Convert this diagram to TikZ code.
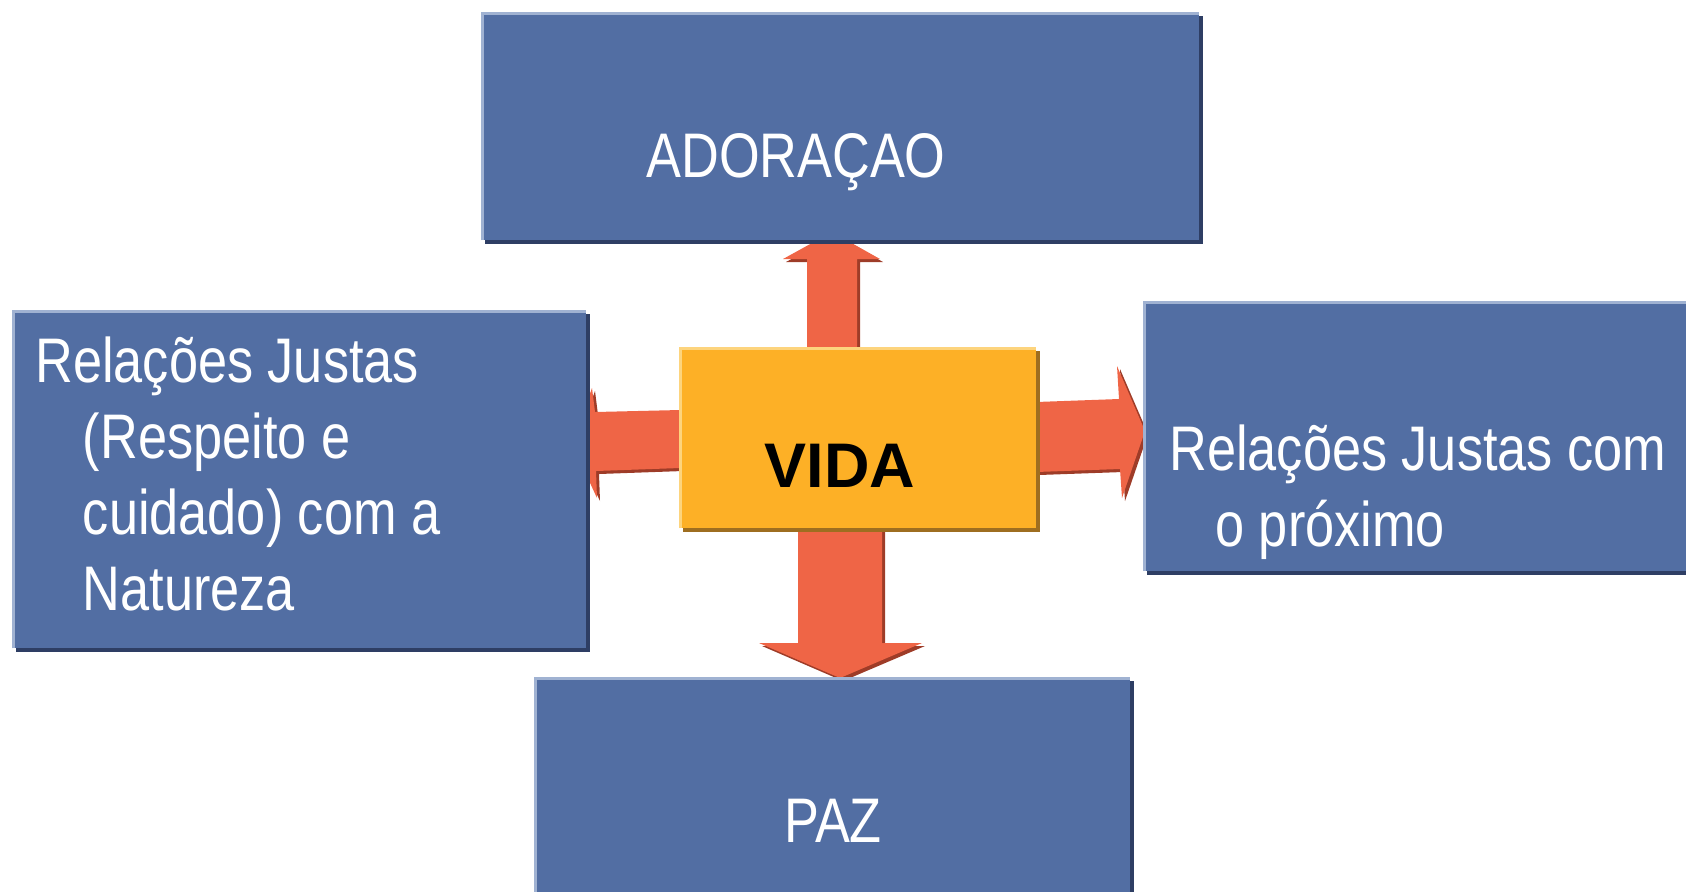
\documentclass[tikz,border=0pt]{standalone}
\usepackage{fontspec}
\setmainfont{Liberation Sans}[FakeStretch=0.83]
\newfontfamily\widefont{Liberation Sans}
\usetikzlibrary{shadows,fit}
\definecolor{boxfill}{RGB}{82,110,163}
\definecolor{boxhl}{RGB}{160,178,210}
\definecolor{boxsh}{RGB}{46,62,100}
\definecolor{vidafill}{RGB}{253,176,38}
\definecolor{vidahl}{RGB}{253,212,125}
\definecolor{vidash}{RGB}{158,110,32}
\definecolor{arrfill}{RGB}{239,101,70}
\definecolor{arrsh}{RGB}{158,60,40}
\begin{document}
\begin{tikzpicture}[x=0.5pt,y=-0.5pt,
  bluebox/.style={fit={#1}, inner sep=0pt, fill=boxfill,
    drop shadow={shadow xshift=2pt,shadow yshift=-2pt,fill=boxsh,opacity=1}},
  vidabox/.style={fit={#1}, inner sep=0pt, fill=vidafill,
    drop shadow={shadow xshift=2pt,shadow yshift=-2pt,fill=vidash,opacity=1}},
  hlline/.style={draw=#1, line width=1.5pt},
  lbl/.style={inner sep=0pt, text=white, font=\fontsize{31.5}{38}\selectfont},
  arrbody/.style={fill=arrfill},
  arrshadow/.style={fill=arrsh, shift={(3,3)}}
]
\useasboundingbox (0,0) rectangle (1686,891);

% block arrows (shadow, then body)
\fill[arrshadow] (807,347) -- (807,259) -- (783,259) -- (832,232) -- (880,259) -- (857,259) -- (857,347) -- cycle;
\fill[arrbody]   (807,347) -- (807,259) -- (783,259) -- (832,232) -- (880,259) -- (857,259) -- (857,347) -- cycle;
\fill[arrshadow] (798,529) -- (798,643) -- (759,643) -- (840,678) -- (922,643) -- (882,643) -- (882,529) -- cycle;
\fill[arrbody]   (798,529) -- (798,643) -- (759,643) -- (840,678) -- (922,643) -- (882,643) -- (882,529) -- cycle;
\fill[arrshadow] (680,410) -- (595,412) -- (592,388) -- (572,444) -- (597,498) -- (596,471) -- (680,468) -- cycle;
\fill[arrbody]   (680,410) -- (595,412) -- (592,388) -- (572,444) -- (597,498) -- (596,471) -- (680,468) -- cycle;
\fill[arrshadow] (1036,402) -- (1119,399) -- (1117,366) -- (1145,431) -- (1122,498) -- (1120,469) -- (1036,472) -- cycle;
\fill[arrbody]   (1036,402) -- (1119,399) -- (1117,366) -- (1145,431) -- (1122,498) -- (1120,469) -- (1036,472) -- cycle;

% boxes
\node[bluebox={(481,12) (1199,240)}] (top) {};
\node[bluebox={(12,310) (586,648)}] (left) {};
\node[bluebox={(1143,301) (1710,571)}] (right) {};
\node[bluebox={(534,677) (1130,910)}] (bottom) {};
\node[vidabox={(679,347) (1036,528)}] (vida) {};

\foreach \n in {top,left,right,bottom}{
  \draw[hlline=boxhl] ([shift={(1.5,0)}]\n.south west) -- ([shift={(1.5,1.5)}]\n.north west) -- ([shift={(0,1.5)}]\n.north east);
}
\draw[hlline=vidahl] ([shift={(1.5,0)}]vida.south west) -- ([shift={(1.5,1.5)}]vida.north west) -- ([shift={(0,1.5)}]vida.north east);

% texts
\node[lbl, anchor=base west] (tadora) at (646,177) {ADORAÇAO};
\node[lbl, anchor=base] (tpaz) at (833,842) {PAZ};
\node[inner sep=0pt, anchor=base, font=\widefont\bfseries\fontsize{31.5}{38}\selectfont] (tvida) at (840,487) {VIDA};
\node[lbl, anchor=base west] (tleft) at (35,382) {\fontsize{31.5}{38}\selectfont\begin{tabular}[t]{@{}l@{}}
Relações Justas\\
\hspace*{23.75pt}(Respeito e\\
\hspace*{23.75pt}cuidado) com a\\
\hspace*{23.75pt}Natureza
\end{tabular}};
\node[lbl, anchor=base west] (tright) at (1169,470) {\fontsize{31.5}{38}\selectfont\begin{tabular}[t]{@{}l@{}}
Relações Justas com\\
\hspace*{23pt}o próximo
\end{tabular}};
\end{tikzpicture}
\end{document}
